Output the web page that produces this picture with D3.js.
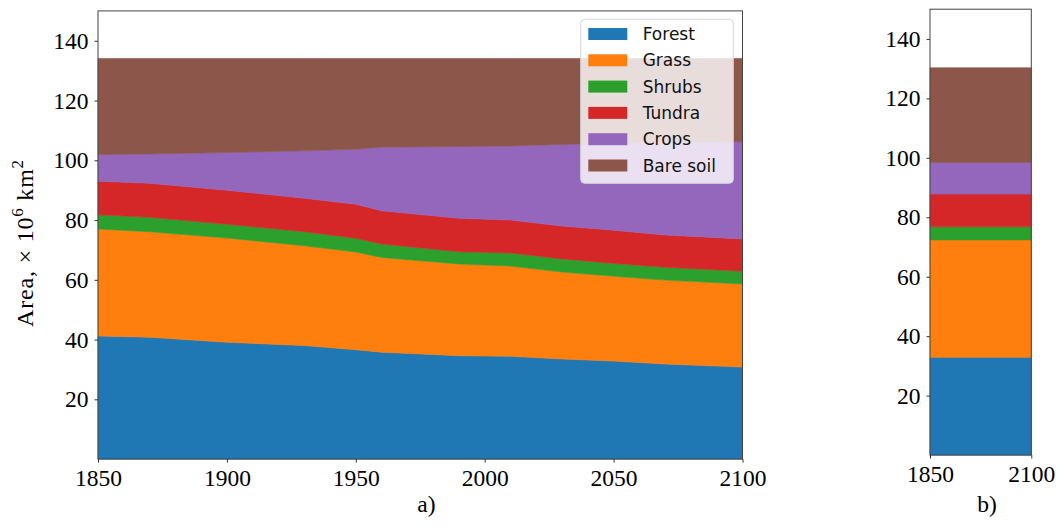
<!DOCTYPE html>
<html>
<head>
<meta charset="utf-8">
<script src="https://cdn.jsdelivr.net/npm/d3@7"></script>
<style>
  body { margin: 0; background: #fff; }
  svg { display: block; }
  .axis text { font-family: "Liberation Serif", serif; font-size: 23.5px; fill: #000; }
  .axis path, .axis line { stroke: #333; }
</style>
</head>
<body>
<script>
const W = 1062
const H = 527

// land cover, 10^6 km2
const years = [1850, 1870, 1900, 1930, 1950, 1960, 1990, 2010, 2030, 2050, 2070, 2100]
const forest = [41.2, 40.8, 39.1, 38.0, 36.6, 35.8, 34.6, 34.4, 33.5, 32.8, 31.8, 30.8]
const grass = [35.8, 35.3, 34.9, 33.4, 32.7, 31.7, 30.7, 30.2, 29.1, 28.4, 28.1, 27.8]
const shrubs = [4.8, 4.8, 4.6, 4.7, 4.6, 4.5, 4.1, 4.4, 4.4, 4.3, 4.3, 4.3]
const tundra = [11.2, 11.4, 11.4, 11.2, 11.4, 11.1, 11.2, 11.0, 11.0, 11.1, 10.8, 10.8]
const crops = [8.9, 9.8, 12.6, 15.9, 18.4, 21.3, 24.0, 24.8, 27.3, 29.1, 31.0, 32.5]
const bareSoil = [32.2, 32.0, 31.5, 30.9, 30.4, 29.7, 29.5, 29.3, 28.8, 28.4, 28.1, 27.9]

// panel b: one constant state over the period
const yearsB = [1850, 2100]
const valuesB = [32.9, 39.5, 4.4, 11.0, 10.6, 31.9]

const names = ['Forest', 'Grass', 'Shrubs', 'Tundra', 'Crops', 'Bare soil']
const colors = ['#1f77b4', '#ff7f0e', '#2ca02c', '#d62728', '#9467bd', '#8c564b']
const yTicks = [20, 40, 60, 80, 100, 120, 140]
const xTicksA = [1850, 1900, 1950, 2000, 2050, 2100]
const xTicksB = [1850, 2100]

const series = [forest, grass, shrubs, tundra, crops, bareSoil]
const keys = d3.range(names.length)

const dataA = years.map(function (yr, i) {
    const row = { year: yr }
    series.forEach(function (s, k) { row[k] = s[i] })
    return row
})
const dataB = yearsB.map(function (yr) {
    const row = { year: yr }
    valuesB.forEach(function (v, k) { row[k] = v })
    return row
})

const svg = d3.select('body').append('svg')
    .attr('width', W)
    .attr('height', H)

function drawPanel (data, box, xTicks, label, labelX) {
    const xScale = d3.scaleLinear()
        .domain([1850, 2100])
        .range([box.left, box.right])
    const yScale = d3.scaleLinear()
        .domain([0, 150])
        .range([box.bottom, box.top])

    const stacked = d3.stack().keys(keys)(data)

    const areaFun = d3.area()
        .x(function (d) { return xScale(d.data.year) })
        .y0(function (d) { return yScale(d[0]) })
        .y1(function (d) { return yScale(d[1]) })

    svg.append('g').selectAll('path')
        .data(stacked)
        .enter()
        .append('path')
        .attr('d', areaFun)
        .attr('fill', function (d) { return colors[d.key] })
        .attr('stroke', function (d) { return colors[d.key] })
        .attr('stroke-width', 0.6)

    // frame
    svg.append('rect')
        .attr('x', box.left)
        .attr('y', box.top)
        .attr('width', box.right - box.left)
        .attr('height', box.bottom - box.top)
        .attr('fill', 'none')
        .attr('stroke', '#444')
        .attr('stroke-width', 1)

    const yAxis = svg.append('g')
        .attr('class', 'axis')
        .attr('transform', `translate(${box.left},0)`)
        .call(d3.axisLeft(yScale).tickValues(yTicks).tickSize(3.5).tickPadding(6))
    yAxis.select('.domain').remove()

    const xAxis = svg.append('g')
        .attr('class', 'axis')
        .attr('transform', `translate(0,${box.bottom})`)
        .call(d3.axisBottom(xScale).tickValues(xTicks).tickSize(3.5).tickPadding(7).tickFormat(d3.format('d')))
    xAxis.select('.domain').remove()

    svg.append('text')
        .attr('x', labelX)
        .attr('y', 512)
        .attr('text-anchor', 'middle')
        .style('font-family', '"Liberation Serif", serif')
        .style('font-size', '23.5px')
        .text(label)
}

drawPanel(dataA, { left: 98, right: 742.5, top: 10.9, bottom: 459.1 }, xTicksA, 'a)', 426.5)
drawPanel(dataB, { left: 930, right: 1031.3, top: 9.2, bottom: 455.1 }, xTicksB, 'b)', 987)

// y label
const yl = svg.append('text')
    .attr('transform', 'translate(33,243) rotate(-90)')
    .attr('text-anchor', 'middle')
    .style('font-family', '"Liberation Serif", serif')
    .style('font-size', '24px')
    .style('letter-spacing', '0.8px')
yl.append('tspan').text('Area, \u00d7 10')
yl.append('tspan').attr('dy', -10).style('font-size', '17px').text('6')
yl.append('tspan').attr('dy', 10).text('\u00a0km')
yl.append('tspan').attr('dy', -10).style('font-size', '17px').text('2')

// legend
const legend = svg.append('g')
legend.append('rect')
    .attr('x', 580.7)
    .attr('y', 19.3)
    .attr('width', 152.6)
    .attr('height', 164)
    .attr('rx', 4)
    .attr('fill', 'rgba(255,255,255,0.8)')
    .attr('stroke', '#d6d6d6')

const rows = legend.selectAll('g.row')
    .data(names)
    .enter()
    .append('g')
    .attr('class', 'row')
    .attr('transform', function (d, i) { return `translate(588.3,${34 + i * 26.3})` })

rows.append('rect')
    .attr('x', 0)
    .attr('y', -6)
    .attr('width', 39)
    .attr('height', 12)
    .attr('fill', function (d, i) { return colors[i] })

rows.append('text')
    .attr('x', 54.4)
    .attr('y', 0)
    .attr('dy', '0.36em')
    .style('font-family', '"DejaVu Sans", sans-serif')
    .style('font-size', '17px')
    .style('fill', '#111')
    .text(function (d) { return d })
</script>
</body>
</html>
